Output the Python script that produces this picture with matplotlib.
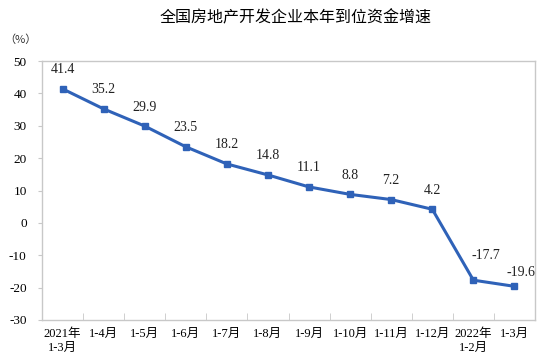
import matplotlib
matplotlib.use("Agg")
import matplotlib.pyplot as plt
import numpy as np

plt.rcParams['font.family'] = ['Liberation Serif', 'Noto Sans CJK SC']

periods = ["2021年\n1-3月", "1-4月", "1-5月", "1-6月", "1-7月", "1-8月", "1-9月",
           "1-10月", "1-11月", "1-12月", "2022年\n1-2月", "1-3月"]
growth = [41.4, 35.2, 29.9, 23.5, 18.2, 14.8, 11.1, 8.8, 7.2, 4.2, -17.7, -19.6]
yticks = [-30, -20, -10, 0, 10, 20, 30, 40, 50]

fig = plt.figure(figsize=(5.55, 3.6), dpi=100)
ax = fig.add_axes([42 / 555, 1 - 320 / 360, 493 / 555, 259 / 360])

x = np.arange(len(periods))
ax.plot(x, growth, color="#2f62b8", lw=2.2, marker="s", ms=4, zorder=3)

# label nudges (points) for the last two values
nudge = {10: (9, 13), 11: (5, 5)}
for i, (xi, v) in enumerate(zip(x, growth)):
    dx, dy = nudge.get(i, (0, 9))
    ax.annotate(f"{v}", (xi, v), xytext=(dx, dy), textcoords="offset points",
                ha="center", va="bottom", fontsize=10, color="#222222")

ax.set_xlim(-0.5, len(periods) - 0.5)
ax.set_ylim(-30, 50)
ax.set_yticks(yticks)
ax.set_yticklabels([str(t) for t in yticks], fontsize=9.5)
ax.set_xticks(x)
ax.set_xticklabels(periods, fontsize=9)
ax.tick_params(axis="x", which="major", length=0, pad=6)
ax.set_xticks(x[:-1] + 0.5, minor=True)
ax.tick_params(axis="x", which="minor", direction="in", length=5, color="#c8c8c8")
ax.tick_params(axis="y", length=3, color="#c8c8c8", pad=8)
for s in ax.spines.values():
    s.set_color("#c8c8c8")
    s.set_linewidth(1.0)

fig.text(296 / 555, 1 - 18 / 360, "全国房地产开发企业本年到位资金增速", ha="center", va="center",
         fontsize=11.5, family=['Noto Sans CJK SC', 'Liberation Serif'])
fig.text(20 / 555, 1 - 40 / 360, "（%）", ha="center", va="center", fontsize=8,
         family=['Noto Sans CJK SC', 'Liberation Serif'], color="#333333")

fig.savefig("out.png", dpi=100)
